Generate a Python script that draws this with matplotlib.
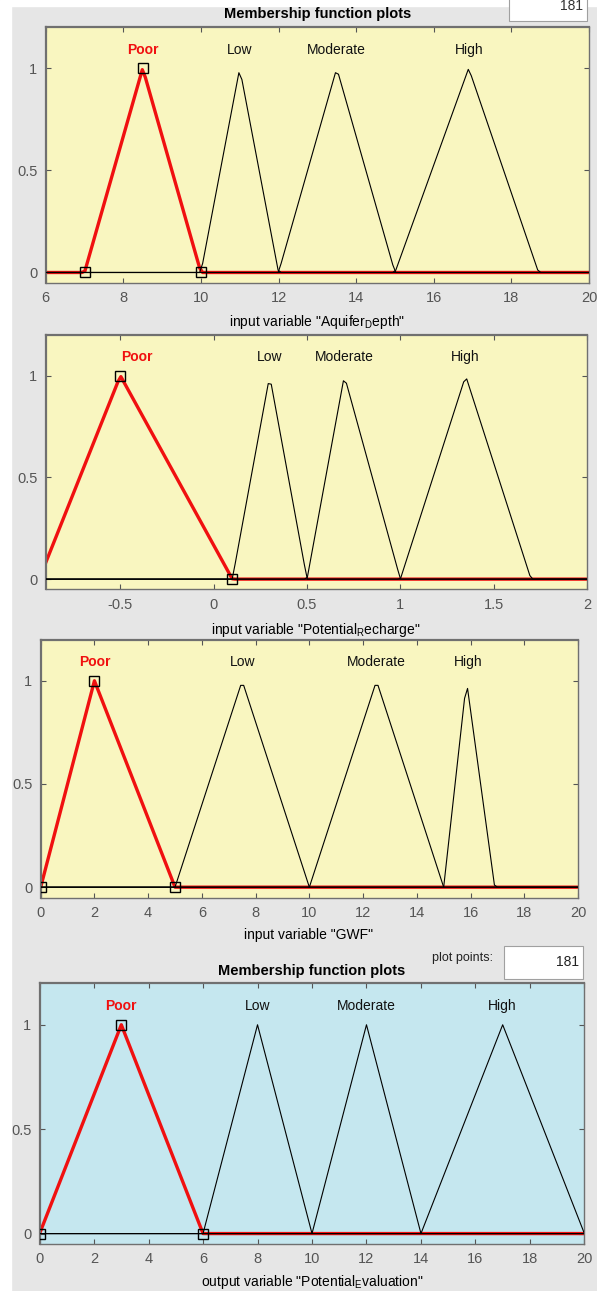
import matplotlib
matplotlib.use("Agg")
import matplotlib.pyplot as plt
from matplotlib.patches import Rectangle
from matplotlib.ticker import FuncFormatter
import numpy as np

plt.rcParams['font.family'] = ['Liberation Sans', 'DejaVu Sans']
plt.rcParams['mathtext.fontset'] = 'custom'
plt.rcParams['mathtext.rm'] = 'Liberation Sans'

# membership function names and triangle parameters [a, b, c]
mf_names = ["Poor", "Low", "Moderate", "High"]

aq_range = [6, 20]
aq_params = [[7, 8.5, 10], [10, 11, 12], [12, 13.5, 15], [15, 16.9, 18.7]]
aq_label_x = [8.5, 11, 13.5, 16.9]
aq_ticks = [6, 8, 10, 12, 14, 16, 18, 20]

rc_range = [-0.9, 2]
rc_params = [[-0.935, -0.5, 0.1], [0.1, 0.3, 0.5], [0.5, 0.7, 1.0], [1.0, 1.35, 1.7]]
rc_label_x = [-0.41, 0.3, 0.7, 1.35]
rc_ticks = [-0.5, 0, 0.5, 1, 1.5, 2]

gwf_range = [0, 20]
gwf_params = [[0, 2, 5], [5, 7.5, 10], [10, 12.5, 15], [15, 15.85, 16.9]]
gwf_label_x = [2, 7.5, 12.5, 15.9]
gwf_ticks = [0, 2, 4, 6, 8, 10, 12, 14, 16, 18, 20]

ev_range = [0, 20]
ev_params = [[0, 3, 6], [6, 8, 10], [10, 12, 14], [14, 17, 20]]
ev_label_x = [3, 8, 12, 17]
ev_ticks = [0, 2, 4, 6, 8, 10, 12, 14, 16, 18, 20]

plot_points = 181

W, H = 597, 1291
fig = plt.figure(figsize=(W / 100, H / 100), dpi=100, facecolor='#e6e6e6')
fig.patches.append(Rectangle((0, 0), 11 / W, 1, transform=fig.transFigure,
                             color='white', zorder=0))
fig.patches.append(Rectangle((0, 1 - 6 / H), 1, 6 / H, transform=fig.transFigure,
                             color='white', zorder=0))


def px_axes(l, t, r, b):
    return fig.add_axes([l / W, 1 - b / H, (r - l) / W, (b - t) / H])


def px_text(x, y, s, **kw):
    return fig.text(x / W, 1 - y / H, s, **kw)


def trimf(x, p):
    a, b, c = p
    left = (x - a) / (b - a)
    right = (c - x) / (c - b)
    return np.clip(np.minimum(left, right), 0, 1)


def mf_panel(box, xr, params, label_x, ticks, bg):
    ax = px_axes(*box)
    ax.set_facecolor(bg)
    x = np.linspace(xr[0], xr[1], plot_points)
    # selected MF (first one) in thick red
    ax.plot(x, trimf(x, params[0]), color='#f01010', lw=2.4, zorder=2)
    for p in params[1:]:
        ax.plot(x, trimf(x, p), color='black', lw=0.8, zorder=3)
    a, b, c = params[0]
    ax.plot([a, b, c], [0, 1, 0], ls='none', marker='s', ms=6.5,
            mfc='none', mec='black', mew=1.0, zorder=4)
    for i, name in enumerate(mf_names):
        if i == 0:
            ax.text(label_x[i], 1.09, name, color='#f01010', fontsize=10,
                    fontweight='bold', ha='center', va='center')
        else:
            ax.text(label_x[i], 1.09, name, color='#111111', fontsize=10,
                    ha='center', va='center')
    ax.set_xlim(xr)
    ax.set_ylim(-0.05, 1.2)
    ax.set_xticks(ticks)
    ax.set_yticks([0, 0.5, 1])
    ax.xaxis.set_major_formatter(FuncFormatter(lambda v, pos: f"{v:g}"))
    ax.yaxis.set_major_formatter(FuncFormatter(lambda v, pos: f"{v:g}"))
    ax.tick_params(direction='in', top=True, right=True, length=3.5,
                   width=0.8, color='#555555', labelcolor='#555555',
                   labelsize=10.5)
    ax.tick_params(axis='x', pad=6)
    ax.tick_params(axis='y', pad=6)
    for s in ax.spines.values():
        s.set_color('#707070')
        s.set_linewidth(1.0)
    ax.spines['left'].set_linewidth(1.6)
    ax.spines['top'].set_linewidth(1.6)
    return ax


yellow = '#f9f6c0'
blue = '#c5e7ef'

# panel 1 (top edge of the screenshot cuts the "plot points" box)
fig.patches.append(Rectangle((509 / W, 1 - 21 / H), 78 / W, 30 / H,
                             transform=fig.transFigure, facecolor='white',
                             edgecolor='#a0a0a0', lw=0.8, zorder=1))
px_text(583, 6, "181", fontsize=10, ha='right', va='center', color='#333333')
px_text(318, 14, "Membership function plots", fontsize=10.5, fontweight='bold',
        ha='center', va='center')
mf_panel((45.7, 27.3, 589, 282.7), aq_range, aq_params, aq_label_x, aq_ticks, yellow)
px_text(317, 322, 'input variable "Aquifer$_\\mathregular{D}$epth"', fontsize=10,
        ha='center', va='center')

# panel 2
mf_panel((45.7, 335, 587, 589.3), rc_range, rc_params, rc_label_x, rc_ticks, yellow)
px_text(316, 630, 'input variable "Potential$_\\mathregular{R}$echarge"', fontsize=10,
        ha='center', va='center')

# panel 3
mf_panel((40.7, 639.5, 578, 897.5), gwf_range, gwf_params, gwf_label_x, gwf_ticks, yellow)
px_text(309, 935, 'input variable "GWF"', fontsize=10, ha='center', va='center')

# panel 4 (output)
px_text(462, 958, "plot points:", fontsize=9, ha='center', va='center', color='#222222')
fig.patches.append(Rectangle((503.7 / W, 1 - 979 / H), 78.8 / W, 33 / H,
                             transform=fig.transFigure, facecolor='white',
                             edgecolor='#a0a0a0', lw=0.8, zorder=1))
px_text(579, 962, "181", fontsize=10, ha='right', va='center', color='#222222')
px_text(312, 970.7, "Membership function plots", fontsize=10.5, fontweight='bold',
        ha='center', va='center')
mf_panel((39.6, 983, 584.4, 1244), ev_range, ev_params, ev_label_x, ev_ticks, blue)
px_text(312, 1281.7, 'output variable "Potential$_\\mathregular{E}$valuation"', fontsize=10,
        ha='center', va='center')

plt.savefig("out.png", dpi=100, facecolor=fig.get_facecolor())
